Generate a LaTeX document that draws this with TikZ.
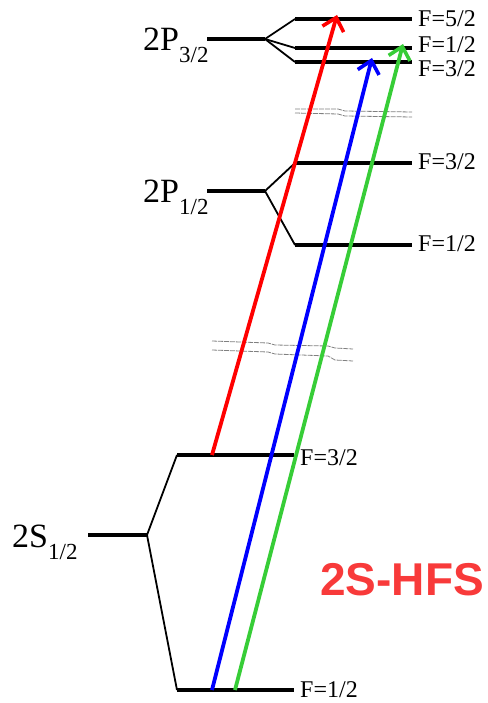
\documentclass[tikz,border=0pt]{standalone}
\usepackage{fontspec}
\setmainfont{Liberation Serif}
\newfontfamily\hfsfont{Liberation Sans}
\usetikzlibrary{arrows.meta}
\definecolor{hfsred}{RGB}{248,58,58}
\definecolor{lgreen}{RGB}{55,205,55}
\newcommand{\term}[2]{#1\raisebox{-12pt}{\fontsize{23}{23}\selectfont #2}}
\tikzset{
  level/.style={line width=3.8pt},
  split/.style={line width=1.8pt},
  trans/.style={line width=3.8pt, -{Straight Barb[length=12pt,width=22pt,line width=3.6pt]}},
  brk/.style={gray, line width=0.8pt, dash pattern=on 5pt off 1pt},
  flabel/.style={anchor=west, inner sep=0pt, font=\fontsize{24}{24}\selectfont},
  tlabel/.style={anchor=base west, inner sep=0pt, font=\fontsize{34}{34}\selectfont}
}
\begin{document}
\begin{tikzpicture}[x=1pt, y=-1pt]
  \useasboundingbox (0,0) rectangle (487,703);
  % 2P 3/2
  \draw[level] (207,39) -- (265,39);
  \draw[split] (265,39) -- (295,19);
  \draw[split] (265,39) -- (295,48);
  \draw[split] (265,39) -- (295,62);
  \draw[level] (295,19) -- (412,19);
  \draw[level] (295,48) -- (412,48);
  \draw[level] (295,62) -- (412,62);
  \node[tlabel] (p32) at (143,51) {\term{2P}{3/2}};
  \node[flabel] (f52a) at (418,19) {F=5/2};
  \node[flabel] (f12a) at (418,45) {F=1/2};
  \node[flabel] (f32a) at (418,69) {F=3/2};
  % 2P 1/2
  \draw[level] (207,191) -- (265,191);
  \draw[split] (265,191) -- (295,163);
  \draw[split] (265,191) -- (295,245);
  \draw[level] (295,163) -- (412,163);
  \draw[level] (295,245) -- (412,245);
  \node[tlabel] (p12) at (143,203) {\term{2P}{1/2}};
  \node[flabel] (f32b) at (418,162) {F=3/2};
  \node[flabel] (f12b) at (418,244) {F=1/2};
  % 2S 1/2
  \draw[level] (88,535) -- (147,535);
  \draw[split] (147,535) -- (177,455);
  \draw[split] (147,535) -- (177,690);
  \draw[level] (177,455) -- (294,455);
  \draw[level] (177,690) -- (294,690);
  \node[tlabel] (s12) at (12,547) {\term{2S}{1/2}};
  \node[flabel] (f32c) at (300,458) {F=3/2};
  \node[flabel] (f12c) at (300,690) {F=1/2};
  % breaks
  \draw[brk] (295,109) -- (338,109) -- (345,111) -- (412,112);
  \draw[brk] (295,113) -- (338,114) -- (345,116) -- (412,117);
  \draw[brk] (212,341) -- (268,343) -- (275,345) -- (328,346) -- (335,348) -- (353,349);
  \draw[brk] (212,350) -- (268,352) -- (275,354) -- (328,356) -- (335,360) -- (353,361);
  % transitions
  \coordinate (r0) at (212,455);
  \coordinate (r1) at (337,15);
  \coordinate (b0) at (212,690);
  \coordinate (b1) at (372,58);
  \coordinate (g0) at (235,690);
  \coordinate (g1) at (403,44);
  \draw[trans, red] (r0) -- (r1);
  \draw[trans, blue] (b0) -- (b1);
  \draw[trans, lgreen] (g0) -- (g1);
  \node[text=hfsred, font=\hfsfont\bfseries\fontsize{46}{46}\selectfont] (hfs) at (402,580) {2S-HFS};
\end{tikzpicture}
\end{document}
